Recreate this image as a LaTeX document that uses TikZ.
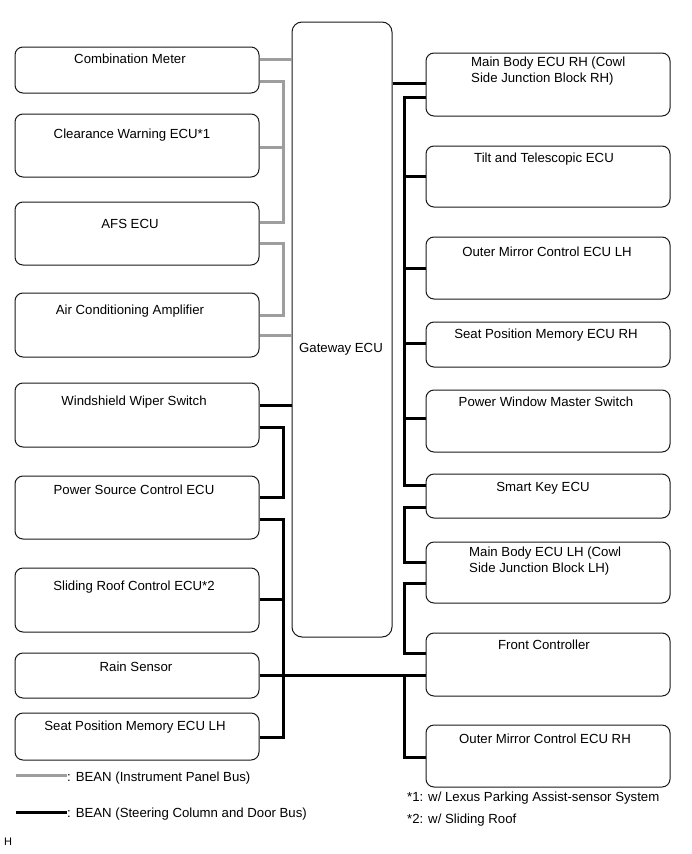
\documentclass[tikz,border=0pt]{standalone}
\usepackage{fontspec}
\setmainfont{Liberation Sans}
\begin{document}
\begin{tikzpicture}[x=1pt,y=-1pt,
  ecubox/.style={draw=black!90,line width=1pt,rounded corners=8pt,minimum width=244pt,inner sep=0pt},
  txt/.style={inner sep=0pt,font=\fontsize{13.2}{15}\selectfont},
  graybus/.style={draw=black!38,line width=3pt},
  blackbus/.style={draw=black,line width=3pt}]
\useasboundingbox[fill=white] (0,0) rectangle (691,854);
% Gateway
\node[draw=black!90,line width=1pt,rounded corners=10pt,minimum width=100pt,minimum height=615pt,inner sep=0pt] (gw) at (342,329.5) {};
\node[txt,anchor=base] (gwt) at (341,352) {Gateway ECU};
% left boxes
\node[ecubox,minimum height=46pt] (cm) at (137,70) {};
\node[ecubox,minimum height=63pt] (cw) at (137,145.5) {};
\node[ecubox,minimum height=63pt] (afs) at (137,233.5) {};
\node[ecubox,minimum height=64pt] (ac) at (137,325) {};
\node[ecubox,minimum height=64pt] (ws) at (137,415) {};
\node[ecubox,minimum height=63pt] (ps) at (137,507.5) {};
\node[ecubox,minimum height=64pt] (sr) at (137,600) {};
\node[ecubox,minimum height=45pt] (rs) at (137,675.5) {};
\node[ecubox,minimum height=47pt] (spl) at (137,736.5) {};
\node[txt,anchor=base] (cmt) at (130,63) {Combination Meter};
\node[txt,anchor=base] (cwt) at (132,138) {Clearance Warning ECU*1};
\node[txt,anchor=base] (afst) at (130,228) {AFS ECU};
\node[txt,anchor=base] (act) at (130,314) {Air Conditioning Amplifier};
\node[txt,anchor=base] (wst) at (134,405) {Windshield Wiper Switch};
\node[txt,anchor=base] (pst) at (134,494) {Power Source Control ECU};
\node[txt,anchor=base] (srt) at (134,590) {Sliding Roof Control ECU*2};
\node[txt,anchor=base] (rst) at (136,671) {Rain Sensor};
\node[txt,anchor=base] (splt) at (135,730) {Seat Position Memory ECU LH};
% right boxes
\node[ecubox,minimum height=63pt] (mbr) at (548,84.5) {};
\node[ecubox,minimum height=61pt] (tt) at (548,176.5) {};
\node[ecubox,minimum height=62pt] (oml) at (548,268) {};
\node[ecubox,minimum height=45pt] (spr) at (548,344.5) {};
\node[ecubox,minimum height=62pt] (pw) at (548,421) {};
\node[ecubox,minimum height=44pt] (sk) at (548,496) {};
\node[ecubox,minimum height=61pt] (mbl) at (548,572.5) {};
\node[ecubox,minimum height=63pt] (fc) at (548,664.5) {};
\node[ecubox,minimum height=62pt] (omr) at (548,756) {};
\node[txt,anchor=base west] (mbrt1) at (471,66) {Main Body ECU RH (Cowl};
\node[txt,anchor=base west] (mbrt2) at (471,82) {Side Junction Block RH)};
\node[txt,anchor=base] (ttt) at (544,162) {Tilt and Telescopic ECU};
\node[txt,anchor=base] (omlt) at (547,256) {Outer Mirror Control ECU LH};
\node[txt,anchor=base] (sprt) at (546,338) {Seat Position Memory ECU RH};
\node[txt,anchor=base] (pwt) at (546,406) {Power Window Master Switch};
\node[txt,anchor=base] (skt) at (543,491) {Smart Key ECU};
\node[txt,anchor=base west] (mblt1) at (469,556) {Main Body ECU LH (Cowl};
\node[txt,anchor=base west] (mblt2) at (469,572) {Side Junction Block LH)};
\node[txt,anchor=base] (fct) at (544,649) {Front Controller};
\node[txt,anchor=base] (omrt) at (545,743) {Outer Mirror Control ECU RH};
% bus coordinates
\coordinate (lbus) at (283,0);
\coordinate (rbus) at (404,0);
% gray bus
\draw[graybus] (cm.east |- 0,59) -- (gw.west |- 0,59);
\draw[graybus] (cm.east |- 0,81) -- (lbus |- 0,81) -- (lbus |- 0,222) -- (afs.east |- 0,222);
\draw[graybus] (cw.east |- 0,147) -- (lbus |- 0,147);
\draw[graybus] (afs.east |- 0,243) -- (lbus |- 0,243) -- (lbus |- 0,315) -- (ac.east |- 0,315);
\draw[graybus] (ac.east |- 0,335) -- (gw.west |- 0,335);
% black bus left
\draw[blackbus] (ws.east |- 0,405) -- (gw.west |- 0,405);
\draw[blackbus] (ws.east |- 0,427) -- (lbus |- 0,427) -- (lbus |- 0,497) -- (ps.east |- 0,497);
\draw[blackbus] (ps.east |- 0,519) -- (lbus |- 0,519) -- (lbus |- 0,737) -- (spl.east |- 0,737);
\draw[blackbus] (sr.east |- 0,599) -- (lbus |- 0,599);
\draw[blackbus] (rs.east |- 0,675) -- (fc.west |- 0,675);
% black bus right
\draw[blackbus] (gw.east |- 0,83) -- (mbr.west |- 0,83);
\draw[blackbus] (mbr.west |- 0,97) -- (rbus |- 0,97) -- (rbus |- 0,485) -- (sk.west |- 0,485);
\draw[blackbus] (tt.west |- 0,176) -- (rbus |- 0,176);
\draw[blackbus] (oml.west |- 0,268) -- (rbus |- 0,268);
\draw[blackbus] (spr.west |- 0,343) -- (rbus |- 0,343);
\draw[blackbus] (pw.west |- 0,418) -- (rbus |- 0,418);
\draw[blackbus] (sk.west |- 0,507) -- (rbus |- 0,507) -- (rbus |- 0,562) -- (mbl.west |- 0,562);
\draw[blackbus] (mbl.west |- 0,583) -- (rbus |- 0,583) -- (rbus |- 0,653) -- (fc.west |- 0,653);
\draw[blackbus] (rbus |- 0,675) -- (rbus |- 0,757) -- (omr.west |- 0,757);
% legend
\coordinate (lg1a) at (16,775);
\node[txt,anchor=base west] (lg1) at (67,781) {: BEAN (Instrument Panel Bus)};
\draw[graybus] (lg1a) -- (lg1.west |- lg1a);
\coordinate (lg2a) at (16,812);
\node[txt,anchor=base west] (lg2) at (67,817) {: BEAN (Steering Column and Door Bus)};
\draw[blackbus] (lg2a) -- (lg2.west |- lg2a);
\node[txt,anchor=base west,font=\fontsize{11}{13}\selectfont] (hh) at (4,845) {H};
% footnotes
\node[txt,anchor=base west] (fn1) at (407,801) {*1: w/ Lexus Parking Assist-sensor System};
\node[txt,anchor=base west] (fn2) at (407,823) {*2: w/ Sliding Roof};
\end{tikzpicture}
\end{document}
